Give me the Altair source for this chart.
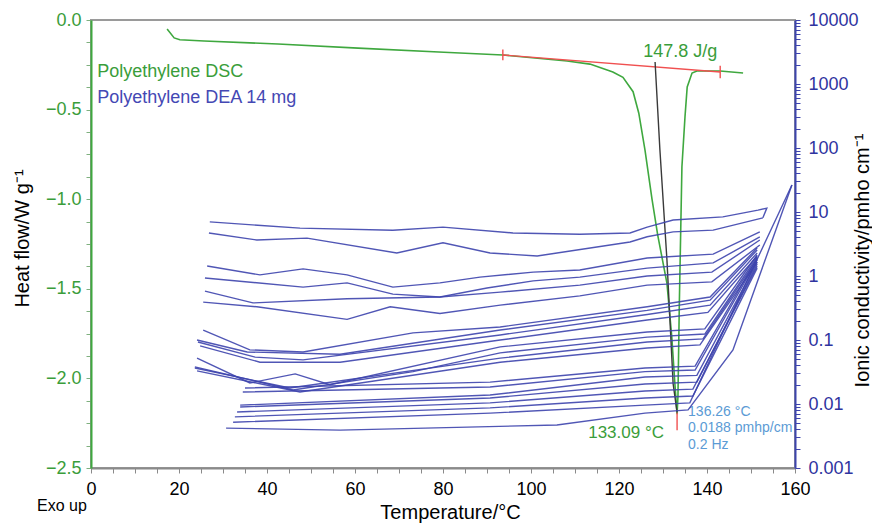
import altair as alt
import pandas as pd

# ---------------- DSC (heat flow, left axis) ----------------
dsc_T = [17.3, 18.9, 20.2, 25.7, 42.5, 60.7, 80.2, 93.6, 108.2, 113.4, 118.6, 120.9,
         123.2, 124.5, 125.9, 127.5, 128.8, 130.9, 132.0, 132.7, 133.2, 133.4, 133.7,
         133.9, 134.3, 135.0, 135.5, 136.6, 137.7, 143.0, 148.2]
dsc_hf = [-0.05, -0.10, -0.11, -0.117, -0.134, -0.157, -0.18, -0.195, -0.229, -0.246,
          -0.29, -0.32, -0.40, -0.52, -0.725, -1.0, -1.2, -1.47, -1.77, -2.03, -2.20,
          -2.1, -1.6, -1.34, -0.82, -0.54, -0.374, -0.296, -0.285, -0.285, -0.296]

# red baseline of the integration
base_T = [93.6, 143.0]
base_hf = [-0.195, -0.29]
# red end marks (x, top, bottom)
mark_T = [93.6, 143.0, 133.2]
mark_top = [-0.165, -0.255, -2.19]
mark_bot = [-0.225, -0.325, -2.29]

# black peak line
peak_T = [128.2, 129.3, 130.9, 132.3, 133.2]
peak_hf = [-0.234, -0.725, -1.34, -2.03, -2.19]

# ---------------- DEA (ionic conductivity, right log axis) ----------------
dea_T = [
    [27.0, 47.5, 68.6, 80.0, 95.9, 111.1, 122.5, 126.4, 132.3, 143.6, 151.6, 153.6, 152.7],
    [26.8, 37.7, 49.1, 69.5, 80.0, 90.7, 101.4, 122.5, 126.4, 132.3, 141.4, 152.7],
    [26.4, 38.4, 48.2, 58.2, 68.6, 79.3, 88.4, 100.5, 111.1, 126.4, 141.4, 152.0],
    [25.9, 48.2, 58.2, 68.6, 79.3, 90.0, 100.5, 111.1, 126.4, 141.4, 152.0],
    [25.9, 36.8, 58.2, 79.3, 93.0, 111.1, 126.4, 141.1, 152.0],
    [25.5, 37.7, 58.2, 68.0, 79.3, 93.0, 111.1, 126.4, 141.1, 152.0],
    [25.5, 36.1, 48.2, 73.2, 93.0, 126.4, 140.7, 151.4],
    [24.1, 35.5, 56.6, 93.0, 126.4, 140.7, 151.4],
    [24.3, 37.3, 48.2, 93.0, 126.4, 140.7, 151.4],
    [24.8, 38.4, 56.6, 93.0, 126.4, 140.2, 151.4],
    [24.1, 36.1, 46.4, 54.3, 93.0, 126.4, 139.5, 151.4],
    [23.6, 45.9, 73.2, 93.0, 126.4, 139.5, 151.4],
    [23.6, 45.2, 93.0, 126.4, 139.1, 151.4],
    [24.1, 47.5, 93.0, 126.4, 138.4, 151.4],
    [35.0, 90.7, 125.9, 137.3, 151.4],
    [34.5, 90.7, 125.9, 137.3, 151.4],
    [33.9, 90.7, 125.9, 137.7, 151.4],
    [33.9, 90.7, 125.9, 137.7, 151.4],
    [33.2, 90.7, 125.9, 136.8, 151.4],
    [32.7, 90.7, 125.9, 136.8, 151.4],
    [32.3, 90.7, 125.9, 136.1, 159.3],
    [30.7, 56.6, 105.9, 125.9, 135.7, 145.9, 159.3],
]
dea_c = [
    [7.0, 5.6, 5.2, 5.8, 4.7, 4.5, 4.7, 5.8, 7.5, 8.4, 10.7, 11.5, 8.1],
    [4.7, 3.65, 3.9, 2.29, 3.3, 2.29, 2.05, 3.4, 4.1, 4.9, 5.2, 8.1],
    [1.43, 1.04, 1.29, 1.04, 0.67, 0.78, 0.96, 1.15, 1.24, 1.91, 2.2, 4.9],
    [0.93, 0.67, 0.78, 0.52, 0.47, 0.65, 0.84, 0.96, 1.33, 1.6, 4.1],
    [0.58, 0.38, 0.44, 0.47, 0.56, 0.72, 1.0, 1.15, 3.65],
    [0.39, 0.33, 0.21, 0.33, 0.26, 0.35, 0.49, 0.72, 0.81, 3.05],
    [0.143, 0.070, 0.065, 0.129, 0.16, 0.33, 0.47, 2.74],
    [0.10, 0.065, 0.060, 0.143, 0.29, 0.42, 2.55],
    [0.093, 0.054, 0.049, 0.12, 0.25, 0.35, 2.29],
    [0.081, 0.045, 0.045, 0.10, 0.205, 0.27, 2.05],
    [0.052, 0.0213, 0.0295, 0.020, 0.078, 0.133, 0.149, 2.13],
    [0.038, 0.0166, 0.032, 0.063, 0.111, 0.124, 1.98],
    [0.0365, 0.0178, 0.052, 0.093, 0.104, 1.84],
    [0.033, 0.0154, 0.045, 0.075, 0.084, 1.65],
    [0.0178, 0.022, 0.0365, 0.039, 1.91],
    [0.0154, 0.0184, 0.032, 0.034, 1.78],
    [0.0096, 0.0138, 0.0264, 0.028, 1.65],
    [0.0090, 0.0124, 0.0205, 0.022, 1.54],
    [0.0075, 0.0104, 0.016, 0.0171, 1.43],
    [0.0063, 0.0087, 0.0124, 0.0133, 1.33],
    [0.0052, 0.0072, 0.0096, 0.0104, 26.4],
    [0.0042, 0.0039, 0.0047, 0.0072, 0.0081, 0.070, 26.4],
]

# ---------------- axes ----------------
x_ticks = list(range(0, 161, 5))
hf_ticks = [-2.5 + 0.125 * i for i in range(21)]
cond_decades = [0.001, 0.01, 0.1, 1, 10, 100, 1000, 10000]
cond_ticks = [d * m for d in cond_decades[:-1] for m in range(1, 10)] + [cond_decades[-1]]

GREEN = "#3fa83f"
GREEN_TXT = "#3a9d3a"
BLUE = "#3d44ad"
BLUE_LBL = "#2f34a0"
LIGHTBLUE = "#5b9bd5"
RED = "#f05050"
FONT = "Liberation Sans"

# ---------------- tables ----------------
dsc_df = pd.DataFrame({"T": dsc_T, "hf": dsc_hf, "i": range(len(dsc_T))})
base_df = pd.DataFrame({"T": base_T, "hf": base_hf, "i": range(len(base_T))})
mark_df = pd.DataFrame({"T": mark_T, "hf": mark_top, "hf2": mark_bot})
peak_df = pd.DataFrame({"T": peak_T, "hf": peak_hf, "i": range(len(peak_T))})

rows = []
for s, (ts, cs) in enumerate(zip(dea_T, dea_c)):
    for i, (t, c) in enumerate(zip(ts, cs)):
        rows.append({"T": t, "c": c, "s": s, "i": i})
dea_df = pd.DataFrame(rows)

x_enc = alt.X(
    "T:Q",
    scale=alt.Scale(domain=[0, 160], nice=False, zero=False),
    axis=alt.Axis(
        values=x_ticks,
        labelExpr="datum.value % 20 == 0 ? datum.label : ''",
        title="Temperature/°C",
        titleFontSize=20, titleFontWeight="normal", titleColor="black",
        titleX=359, titleY=44, titleBaseline="middle", titleAlign="center",
        labelFontSize=18, labelColor="black", labelFlush=False, labelOverlap=False,
        domainColor="#8a8a8a", domainWidth=2, tickColor="#8a8a8a", tickSize=5,
        labelPadding=7, grid=False,
    ),
)

y_hf = alt.Y(
    "hf:Q",
    scale=alt.Scale(domain=[-2.5, 0], nice=False, zero=False),
    axis=alt.Axis(
        values=hf_ticks, format=".1f",
        labelExpr="abs(datum.value*2 - round(datum.value*2)) < 0.001 ? datum.label : ''",
        title="Heat flow/W g⁻¹",
        titleFontSize=20, titleFontWeight="normal", titleColor="black",
        titleAngle=270, titleX=-69, titleY=218, titleBaseline="middle", titleAlign="center",
        labelFontSize=18, labelColor=GREEN_TXT, labelFlush=False, labelOverlap=False,
        domainColor=GREEN, domainWidth=2, tickColor="#7fb07f", tickSize=5,
        labelPadding=5, grid=False,
    ),
)

dsc_line = alt.Chart(dsc_df).mark_line(color=GREEN, strokeWidth=1.6).encode(
    x=x_enc, y=y_hf, order="i:Q")
base_line = alt.Chart(base_df).mark_line(color=RED, strokeWidth=1.4).encode(
    x=x_enc, y=y_hf, order="i:Q")
marks = alt.Chart(mark_df).mark_rule(color=RED, strokeWidth=1.4).encode(
    x=x_enc, y=y_hf, y2="hf2:Q")
peak_line = alt.Chart(peak_df).mark_line(color="#3a3a3a", strokeWidth=1.4).encode(
    x=x_enc, y=y_hf, order="i:Q")

def label(texts, ts, hfs, color, size, align="left"):
    df = pd.DataFrame({"T": ts, "hf": hfs, "txt": texts})
    return alt.Chart(df).mark_text(
        color=color, fontSize=size, align=align, baseline="middle", font=FONT
    ).encode(x=x_enc, y=y_hf, text="txt:N")

legend_dsc = label(["Polyethylene DSC"], [1.4], [-0.29], GREEN_TXT, 18)
legend_dea = label(["Polyethylene DEA 14 mg"], [1.4], [-0.435], "#4448b4", 18)
enthalpy = label(["147.8 J/g"], [133.9], [-0.18], GREEN_TXT, 18, "center")
peak_temp = label(["133.09 °C"], [113.0], [-2.305], GREEN_TXT, 17)
dea_note = label(["136.26 °C", "0.0188 pmhp/cm", "0.2 Hz"],
                 [135.7, 135.7, 135.7], [-2.19, -2.277, -2.372], LIGHTBLUE, 14)

exo = alt.Chart(alt.Data(values=[{}])).mark_text(
    text="Exo up", fontSize=16, align="left", baseline="middle", color="black", font=FONT
).encode(x=alt.value(-54), y=alt.value(486))

left = alt.layer(dsc_line, base_line, marks, peak_line,
                 legend_dsc, legend_dea, enthalpy, peak_temp, dea_note, exo)

y_c = alt.Y(
    "c:Q",
    scale=alt.Scale(type="log", domain=[0.001, 10000], nice=False),
    axis=alt.Axis(
        orient="right", values=cond_ticks, format="~g",
        labelExpr="abs(log(datum.value)/log(10) - round(log(datum.value)/log(10))) < 0.001 ? datum.label : ''",
        title="Ionic conductivity/pmho cm⁻¹",
        titleFontSize=20, titleFontWeight="normal", titleColor="black",
        titleAngle=270, titleX=67, titleY=240, titleBaseline="middle", titleAlign="center",
        labelFontSize=18, labelColor=BLUE_LBL, labelFlush=False, labelOverlap=False,
        domainColor=BLUE, domainWidth=2, tickColor=BLUE, tickSize=5,
        labelPadding=8, grid=False,
    ),
)

dea = alt.Chart(dea_df).mark_line(color=BLUE, strokeWidth=1.4, opacity=0.9).encode(
    x=x_enc, y=y_c, detail="s:N", order="i:Q")

chart = (
    alt.layer(left, dea)
    .resolve_scale(y="independent")
    .properties(
        width=704, height=448,
        autosize=alt.AutoSizeParams(type="none"),
        padding={"left": 83, "top": 12, "right": 77, "bottom": 55},
    )
    .configure(font=FONT)
    .configure_view(stroke="#9a9a9a", strokeWidth=2)
)

chart.save("out.html", embed_options={"renderer": "svg", "actions": False})
